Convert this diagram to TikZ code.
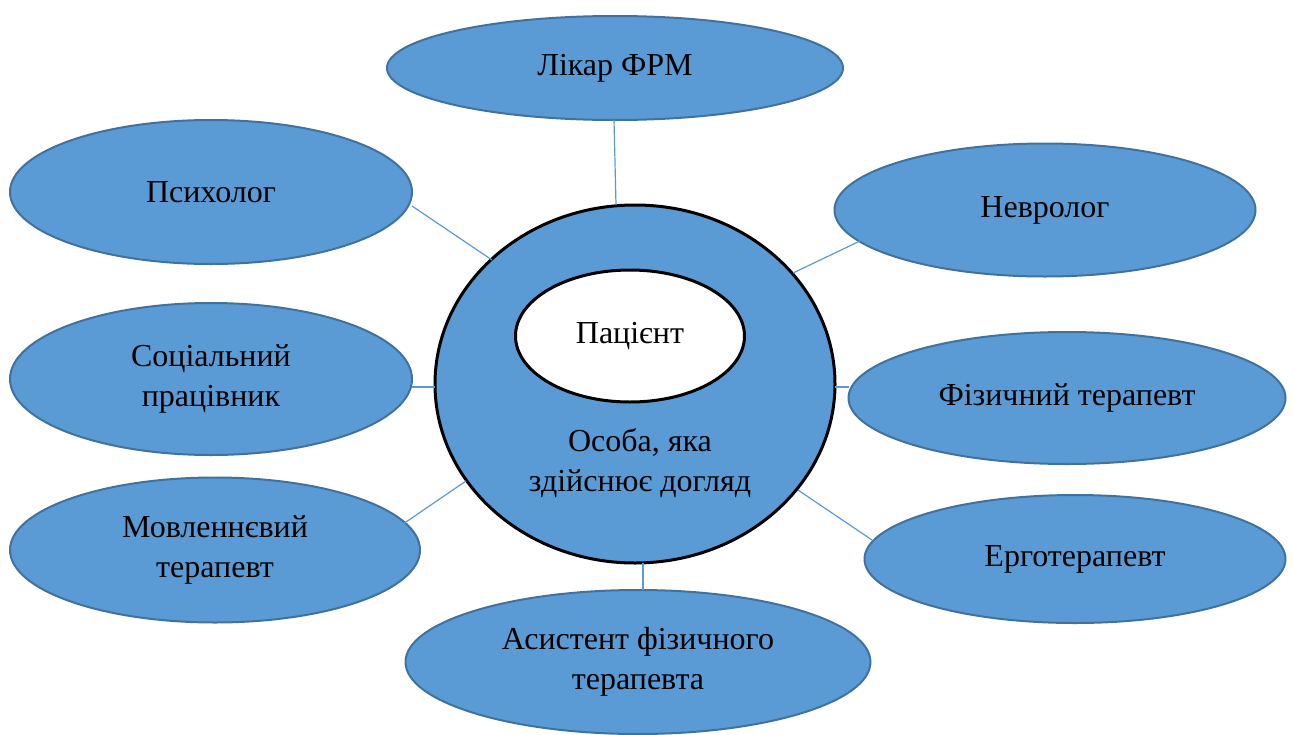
\documentclass[tikz,border=0pt]{standalone}
\usepackage{fontspec}
\setmainfont{Liberation Serif}
\newfontfamily\tnr{Liberation Serif}
\usetikzlibrary{shapes.geometric}
\definecolor{fillblue}{HTML}{5B9BD5}
\definecolor{edgeblue}{HTML}{41719C}
\tikzset{
  role/.style={ellipse, draw=edgeblue, line width=2pt, fill=fillblue, inner sep=0pt, align=center, font=\tnr\fontsize{32}{40}\selectfont},
  link/.style={draw=fillblue, line width=1.2pt},
}
\begin{document}
\begin{tikzpicture}[x=1pt,y=-1pt]
\useasboundingbox (0,0) rectangle (1293,734);
% central circle
\node[ellipse, draw=black, line width=3pt, fill=fillblue, minimum width=400pt, minimum height=358pt, inner sep=0pt] (carer) at (635,384) {};
\node[font=\tnr\fontsize{32}{40}\selectfont, align=center] (carertext) at (640,463) {Особа, яка\\здійснює догляд};
\node[ellipse, draw=black, line width=3pt, fill=white, minimum width=229pt, minimum height=132pt, inner sep=0pt, font=\tnr\fontsize{32}{40}\selectfont] (patient) at (630,336) {Пацієнт};
% roles
\node[role, minimum width=456pt, minimum height=104pt] (likar) at (615,68) {Лікар ФРМ};
\node[role, minimum width=402pt, minimum height=144pt] (psych) at (211,192) {Психолог};
\node[role, minimum width=421pt, minimum height=133pt] (nevr) at (1045,210) {Невролог};
\node[role, minimum width=402pt, minimum height=152pt] (soc) at (211,379) {Соціальний\\працівник};
\node[role, minimum width=437pt, minimum height=132pt] (fiz) at (1067,398) {Фізичний терапевт};
\node[role, minimum width=410pt, minimum height=145pt] (movl) at (215,550) {Мовленнєвий\\терапевт};
\node[role, minimum width=421pt, minimum height=128pt] (erg) at (1075,559) {Ерготерапевт};
\node[role, minimum width=465pt, minimum height=144pt] (asyst) at (638,662) {Асистент фізичного\\терапевта};
% connectors
\coordinate (cTop) at (616,205);
\coordinate (cPsych) at (492,260);
\coordinate (cNevr) at (793,273);
\coordinate (cSoc) at (435,387);
\coordinate (cFiz) at (835,387);
\coordinate (cMovl) at (466,481);
\coordinate (cErg) at (798,490);
\coordinate (cAsyst) at (643,563);
\coordinate (pLikar) at (614,120);
\coordinate (pPsych) at (412,206);
\coordinate (pNevr) at (860,241);
\coordinate (pSoc) at (412,387);
\coordinate (pFiz) at (849,387);
\coordinate (pMovl) at (403,524);
\coordinate (pErg) at (872,540);
\coordinate (pAsyst) at (643,590);
\draw[link] (pLikar) -- (cTop);
\draw[link] (pPsych) -- (cPsych);
\draw[link] (pNevr) -- (cNevr);
\draw[link] (pSoc) -- (cSoc);
\draw[link] (pFiz) -- (cFiz);
\draw[link] (pMovl) -- (cMovl);
\draw[link] (pErg) -- (cErg);
\draw[link] (pAsyst) -- (cAsyst);
\end{tikzpicture}
\end{document}
